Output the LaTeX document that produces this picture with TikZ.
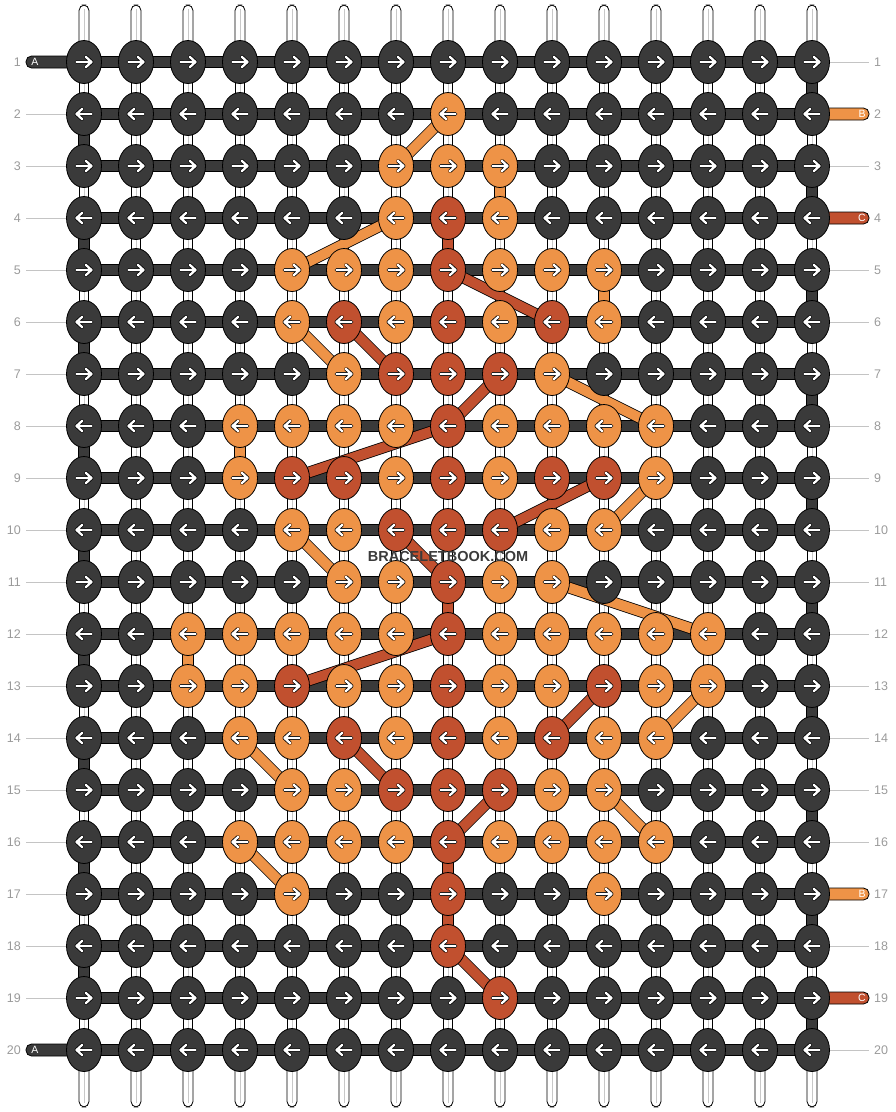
\documentclass[tikz,border=0pt]{standalone}
\usepackage{fontspec}
\setmainfont{Liberation Sans}
\usetikzlibrary{shapes.geometric}
\definecolor{dk}{HTML}{3A3A3A}
\definecolor{org}{HTML}{EE9347}
\definecolor{rd}{HTML}{C1502F}
\definecolor{lbl}{HTML}{9A9A9A}
\definecolor{lln}{HTML}{C4C4C4}
\definecolor{wln}{HTML}{C8C8C8}
\newcommand\setknot[3]{\expandafter\gdef\csname bbknot-#1-#2\endcsname{#3}}
\newcommand\knotcol[2]{\ifcsname bbknot-#1-#2\endcsname\csname bbknot-#1-#2\endcsname\else dk\fi}
\newcommand\setvseg[3]{\expandafter\gdef\csname bbvseg-#1-#2\endcsname{#3}}
\begin{document}
\begin{tikzpicture}[x=1pt,y=-1pt,
  knot/.style={ellipse, draw=black, line width=0.8pt, minimum width=35pt, minimum height=43pt, inner sep=0pt},
  warp/.style={draw=black, line width=0.8pt, double=white, double distance=8.6pt},
  warpline/.style={draw=wln, line width=0.8pt},
  strand/.style={draw=black, line width=0.8pt, double=#1, double distance=10pt},
  hbar/.style={draw=black, line width=0.8pt, double=dk, double distance=10.6pt},
  tailbox/.style={draw=black, line width=0.8pt, rounded corners=5.5pt},
  lblline/.style={draw=lln, line width=0.8pt},
  lblnum/.style={text=lbl, font=\fontsize{12.5}{12.5}\selectfont, inner sep=0pt},
  taillet/.style={text=white, font=\fontsize{10.5}{10.5}\selectfont, inner sep=0pt}
]
\useasboundingbox (0,0) rectangle (896,1112);
% positions
\foreach \r in {1,...,20}{
  \foreach \c in {0,...,14}{
    \coordinate (p-\r-\c) at ({84+52*\c},{62+52*(\r-1)});
  }
}
% knot colours
\foreach \r/\cs in {2/{7},3/{6,7,8},4/{6,8},5/{4,5,6,8,9,10},6/{4,6,8,10},7/{5,9},
  8/{3,4,5,6,8,9,10,11},9/{3,6,8,11},10/{4,5,9,10},11/{5,6,8,9},
  12/{2,3,4,5,6,8,9,10,11,12},13/{2,3,5,6,8,9,11,12},14/{3,4,6,8,10,11},
  15/{4,5,9,10},16/{3,4,5,6,8,9,10,11},17/{4,10}}{
  \foreach \c in \cs {\setknot{\r}{\c}{org}}
}
\foreach \r/\cs in {4/{7},5/{7},6/{5,7,9},7/{6,7,8},8/{7},9/{4,5,7,9,10},10/{6,7,8},
  11/{7},12/{7},13/{4,7,10},14/{5,7,9},15/{6,7,8},16/{7},17/{7},18/{7},19/{8}}{
  \foreach \c in \cs {\setknot{\r}{\c}{rd}}
}
% vertical segment colours
\foreach \r in {2,4,...,18} {\setvseg{\r}{0}{dk}}
\foreach \r in {1,3,...,19} {\setvseg{\r}{14}{dk}}
\foreach \r/\c in {3/8,5/10,8/3,12/2} {\setvseg{\r}{\c}{org}}
\foreach \r/\c in {4/7,11/7,16/7,17/7} {\setvseg{\r}{\c}{rd}}
% top and bottom tails of the warp strings
\foreach \c in {0,...,14}{
  \coordinate (tt-\c) at ({84+52*\c},5);
  \coordinate (bt-\c) at ({84+52*\c},1107);
  \draw[tailbox, fill=white] ([xshift=-5pt]tt-\c) rectangle ([xshift=5pt,yshift=-45pt]tt-\c);
  \draw[warpline] ([yshift=-4pt]tt-\c) -- ([yshift=-45pt]tt-\c);
  \draw[tailbox, fill=white] ([xshift=-5pt]bt-\c) rectangle ([xshift=5pt,yshift=45pt]bt-\c);
  \draw[warpline] ([yshift=4pt]bt-\c) -- ([yshift=45pt]bt-\c);
}
% vertical segments
\foreach \c in {0,...,14}{
  \foreach \r [evaluate=\r as \rn using int(\r+1)] in {1,...,19}{
    \ifcsname bbvseg-\r-\c\endcsname
      \edef\vc{\csname bbvseg-\r-\c\endcsname}
      \draw[strand=\vc] (p-\r-\c) -- (p-\rn-\c);
    \else
      \draw[warp] (p-\r-\c) -- (p-\rn-\c);
      \draw[warpline] (p-\r-\c) -- (p-\rn-\c);
    \fi
  }
}
% horizontal working string
\foreach \r in {1,...,20}{
  \draw[hbar] (p-\r-0) -- (p-\r-14);
}
% left labels and tails
\foreach \r in {1,...,20}{
  \coordinate (ll-\r) at (26,{62+52*(\r-1)});
  \coordinate (rl-\r) at (869,{62+52*(\r-1)});
  \node[lblnum, anchor=east] (ln-\r) at (21,{62+52*(\r-1)}) {\r};
}
\foreach \r in {2,...,19}{ \draw[lblline] (ll-\r) -- (p-\r-0); }
\foreach \r in {1,20}{
  \draw[tailbox, fill=dk] ([yshift=-6pt]ll-\r) rectangle ([yshift=6pt]p-\r-0);
  \node[taillet] (la-\r) at ([xshift=9pt]ll-\r) {A};
}
% right labels and tails
\foreach \r in {1,...,20}{
  \node[lblnum, anchor=west] (rn-\r) at (874,{62+52*(\r-1)}) {\r};
}
\foreach \r in {1,3,5,6,7,8,9,10,11,12,13,14,15,16,18,20}{ \draw[lblline] (p-\r-14) -- (rl-\r); }
\foreach \r/\cl/\t in {2/org/B,4/rd/C,17/org/B,19/rd/C}{
  \draw[tailbox, fill=\cl] ([yshift=-6pt]p-\r-14) rectangle ([yshift=6pt]rl-\r);
  \node[taillet] (rt-\r) at ([xshift=-7pt]rl-\r) {\t};
}
% diagonal strands
\foreach \a/\b/\c/\d in {2/7/3/6,4/6/5/4,6/4/7/5,7/9/8/11,9/11/10/10,10/4/11/5,11/9/12/12,13/12/14/11,14/3/15/4,15/10/16/11,16/3/17/4}{
  \draw[strand=org] (p-\a-\b) -- (p-\c-\d);
}
\foreach \a/\b/\c/\d in {5/7/6/9,6/5/7/6,7/8/8/7,8/7/9/4,9/10/10/8,10/6/11/7,12/7/13/4,13/10/14/9,14/5/15/6,15/8/16/7,18/7/19/8}{
  \draw[strand=rd] (p-\a-\b) -- (p-\c-\d);
}
% knots
\foreach \r in {1,...,20}{
  \ifodd\r\relax \def\dir{1}\else\def\dir{-1}\fi
  \foreach \c in {0,...,14}{
    \edef\kc{\knotcol{\r}{\c}}
    \node[knot, fill=\kc] (k-\r-\c) at (p-\r-\c) {};
    \foreach \w/\cl in {3.9/black,2.3/white}
      \draw[line width=\w pt, \cl, line cap=round, line join=round] (k-\r-\c.center) ++({-7.5*\dir},0) -- ++({15*\dir},0) ++({-5.5*\dir},-5) -- ++({5.5*\dir},5) -- ++({-5.5*\dir},5);
  }
}
% watermark
\node[text=dk, font=\bfseries\fontsize{14.5}{14.5}\selectfont, inner sep=0pt] (wm) at (448,556) {BRACELETBOOK.COM};
\end{tikzpicture}
\end{document}
